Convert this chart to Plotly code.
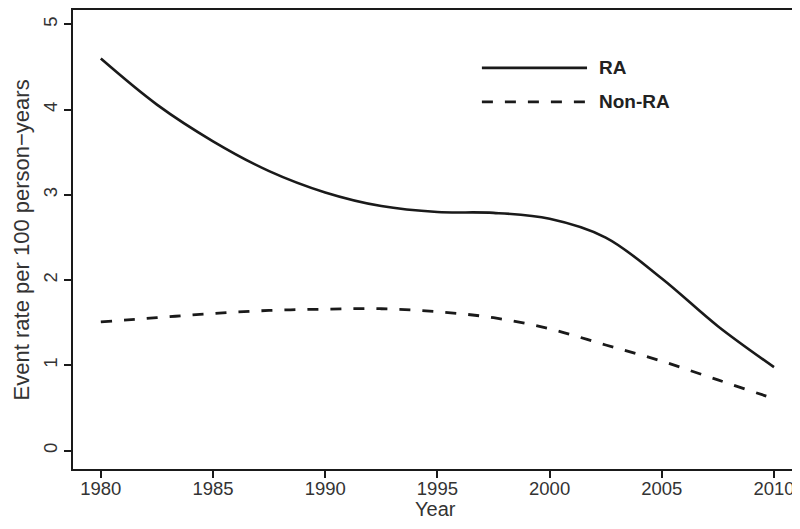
import plotly.graph_objects as go

years = [1980, 1982.5, 1985, 1987.5, 1990, 1992.5, 1995, 1997.5, 2000, 2002.5, 2005, 2007.5, 2010]
ra_rate = [4.60, 4.06, 3.63, 3.28, 3.03, 2.87, 2.80, 2.79, 2.72, 2.50, 2.02, 1.46, 0.98]
nonra_rate = [1.51, 1.56, 1.61, 1.645, 1.66, 1.665, 1.63, 1.56, 1.43, 1.24, 1.05, 0.83, 0.61]

x_ticks = [1980, 1985, 1990, 1995, 2000, 2005, 2010]
y_ticks = [0, 1, 2, 3, 4, 5]
series_names = ["RA", "Non-RA"]
x_title = "Year"
y_title = "Event rate per 100 person\u2212years"

FONT = "Liberation Sans, Arial, Helvetica, sans-serif"
INK = "#1a1a1a"
TXT = "#333333"

fig = go.Figure()
fig.add_trace(go.Scatter(x=years, y=ra_rate, mode="lines", name=series_names[0],
                         line=dict(color=INK, width=2.6, shape="spline", smoothing=1.0),
                         showlegend=False))
fig.add_trace(go.Scatter(x=years, y=nonra_rate, mode="lines", name=series_names[1],
                         line=dict(color=INK, width=2.8, shape="spline", smoothing=1.0,
                                   dash="11px,12px"),
                         showlegend=False))

# manual legend (R-style)
legend_y = [0.874, 0.800]
legend_dash = ["solid", "11px,12px"]
for name, ly, dsh in zip(series_names, legend_y, legend_dash):
    fig.add_shape(type="line", xref="paper", yref="paper", x0=0.564, x1=0.709, y0=ly, y1=ly,
                  line=dict(color=INK, width=2.8, dash=dsh))
    fig.add_annotation(xref="paper", yref="paper", x=0.723, y=ly, text="<b>%s</b>" % name,
                       showarrow=False, xanchor="left", yanchor="middle",
                       font=dict(family=FONT, size=19, color="#222222"))

# axis titles
fig.add_annotation(xref="paper", yref="paper", x=0.5, y=-0.0875, text=x_title,
                   showarrow=False, xanchor="center", yanchor="middle", borderpad=0,
                   font=dict(family=FONT, size=20, color=TXT))
fig.add_annotation(xref="paper", yref="paper", x=-0.0705, y=0.5, text=y_title,
                   showarrow=False, xanchor="center", yanchor="middle", textangle=-90,
                   font=dict(family=FONT, size=22, color=TXT))

axis_common = dict(showgrid=False, zeroline=False, showline=True, linecolor=INK,
                   linewidth=2.2, mirror=True, ticks="outside", ticklen=7, tickwidth=1.5,
                   tickcolor=INK, tickfont=dict(size=18.5, family=FONT, color=TXT),
                   automargin=False)

# page body has an 8px default margin: size the figure to fit the 800x529 window
fig.update_layout(
    width=792, height=513,
    margin=dict(l=65, r=2, t=2, b=52),
    paper_bgcolor="white", plot_bgcolor="white",
    font=dict(family=FONT, color=TXT),
    xaxis=dict(range=[1978.76, 2011.07], tickmode="array", tickvals=x_ticks,
               ticktext=[str(t) for t in x_ticks], ticklabelstandoff=-5, **axis_common),
    yaxis=dict(range=[-0.215, 5.17], tickmode="array", tickvals=y_ticks,
               ticktext=[str(t) for t in y_ticks], tickangle=-90, **axis_common),
)

fig.write_html("out.html")
